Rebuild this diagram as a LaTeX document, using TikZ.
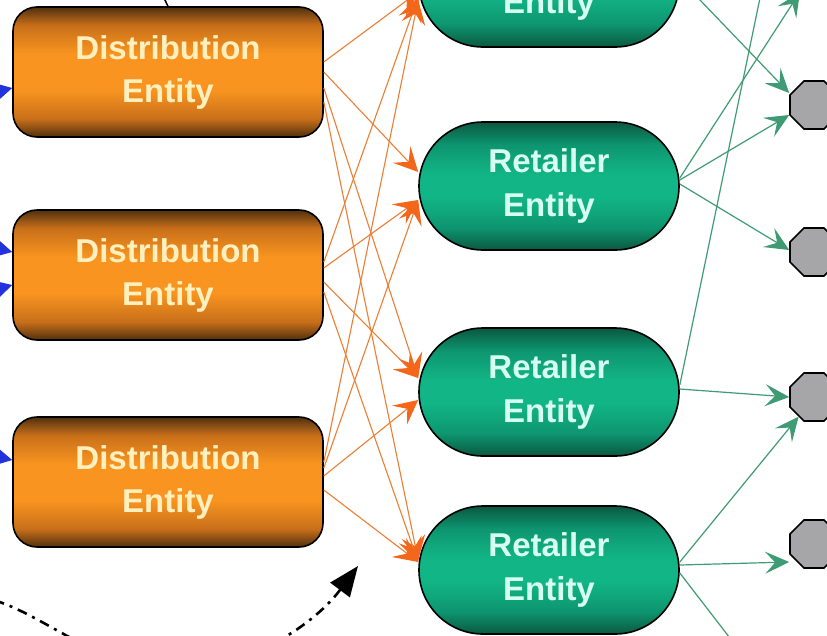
\documentclass[tikz,border=0pt]{standalone}
\usepackage{fontspec}
\setmainfont{Liberation Sans}
\usetikzlibrary{arrows.meta,shapes.misc,shapes.geometric}

\definecolor{dbrown}{HTML}{50300F}
\definecolor{dmid}{HTML}{C86F1A}
\definecolor{dbright}{HTML}{F8941F}
\definecolor{dtext}{HTML}{FFF0BE}
\definecolor{gdark}{HTML}{0A5840}
\definecolor{gmid}{HTML}{0E9670}
\definecolor{gbright}{HTML}{12B686}
\definecolor{gtext}{HTML}{D6FFF2}
\definecolor{hubgray}{HTML}{A6A6A8}
\definecolor{flowline}{HTML}{EC7E34}
\definecolor{flowhead}{HTML}{F4661A}
\definecolor{shipline}{HTML}{3F9B74}
\definecolor{inblue}{HTML}{2233DD}

% vertical shadings: dark rims, bright middle
\pgfdeclareverticalshading{distshade}{100bp}{color(0bp)=(dbrown); color(25bp)=(dbrown);
  color(32bp)=(dmid); color(43bp)=(dbright); color(57bp)=(dbright); color(68bp)=(dmid); color(75bp)=(dbrown); color(100bp)=(dbrown)}
\pgfdeclareverticalshading{retshade}{100bp}{color(0bp)=(gdark); color(25bp)=(gdark);
  color(34bp)=(gmid); color(46bp)=(gbright); color(54bp)=(gbright); color(66bp)=(gmid); color(75bp)=(gdark); color(100bp)=(gdark)}

\tikzset{
  dist/.style={draw=black, line width=1.6pt, rounded corners=24pt, shading=distshade,
    minimum width=310pt, minimum height=130pt, inner sep=0pt, align=center, text=dtext,
    font=\bfseries\fontsize{33}{43}\selectfont},
  retail/.style={rounded rectangle, draw=black, line width=1.6pt, shading=retshade,
    minimum width=260pt, minimum height=128pt, inner sep=0pt, align=center, text=gtext,
    font=\bfseries\fontsize{33}{44}\selectfont},
  hub/.style={regular polygon, regular polygon sides=8, minimum size=52pt, inner sep=0pt,
    draw=black, line width=1.6pt, fill=hubgray},
  flow/.style={draw=flowline, line width=1.1pt,
    -{Stealth[length=24pt, width=24pt, inset=10pt, color=flowhead]}},
  ship/.style={draw=shipline, line width=1.2pt,
    -{Stealth[length=24pt, width=22pt, inset=10pt]}},
  feed/.style={draw=inblue, line width=1.6pt,
    -{Stealth[length=24pt, width=26pt, inset=8pt]}},
  loopback/.style={draw=black, line width=2.6pt, dash pattern=on 10pt off 6pt on 3pt off 6pt,
    -{Triangle[length=30pt, width=24pt]}}
}

\begin{document}
\begin{tikzpicture}[x=1pt, y=-1pt]
\useasboundingbox (0,0) rectangle (827,635);
\fill[white] (0,0) rectangle (827,635);
\begin{scope}
\clip (0,0) rectangle (827,635);

% distribution column
\node[dist] (d1) at (168,72)  {Distribution\\Entity};
\node[dist] (d2) at (168,275) {Distribution\\Entity};
\node[dist] (d3) at (168,482) {Distribution\\Entity};

% retailer column
\node[retail] (rA) at (549,-17) {Retailer\\Entity};
\node[retail] (rB) at (549,186) {Retailer\\Entity};
\node[retail] (rC) at (549,392) {Retailer\\Entity};
\node[retail] (rD) at (549,570) {Retailer\\Entity};

% customer hubs
\node[hub] (o1) at (814,105) {};
\node[hub] (o2) at (814,252) {};
\node[hub] (o3) at (814,397) {};
\node[hub] (o4) at (814,544) {};

% free ends of connectors that leave the frame
\coordinate (top) at (150,-30);
\coordinate (b1) at (-60,105);
\coordinate (b2) at (-60,235);
\coordinate (b3) at (-60,305);
\coordinate (b4) at (-60,445);
\coordinate (tB) at (800,-8);
\coordinate (tC) at (772,-60);
\coordinate (bD) at (770,690);
\coordinate (lp) at (-30,596);
\coordinate (lq) at (175,670);
\coordinate (lr) at (358,566);

% inbound feeds
\draw[black, line width=1.5pt] (top) -- (d1.north);
\draw[feed] (b1) -- ([yshift=-16pt]d1.west);
\draw[feed] (b2) -- ([yshift=23pt]d2.west);
\draw[feed] (b3) -- ([yshift=-10pt]d2.west);
\draw[feed] (b4) -- ([yshift=22pt]d3.west);

% distribution -> retailer
\draw[flow] ([yshift=10pt]d1.east)  -- ([yshift=-9pt]rA.west);
\draw[flow] (d1.east)               -- ([yshift=14pt]rB.west);
\draw[flow] ([yshift=-16pt]d1.east) -- ([yshift=14pt]rC.west);
\draw[flow] ([yshift=-30pt]d1.east) -- ([yshift=10pt]rD.west);
\draw[flow] ([yshift=13pt]d2.east)  -- ([yshift=-14pt]rA.west);
\draw[flow] ([yshift=7pt]d2.east)   -- ([yshift=-14pt]rB.west);
\draw[flow] ([yshift=-7pt]d2.east)  -- ([yshift=14pt]rC.west);
\draw[flow] ([yshift=-17pt]d2.east) -- ([yshift=8pt]rD.west);
\draw[flow] ([yshift=20pt]d3.east)  -- ([yshift=-17pt]rA.west);
\draw[flow] ([yshift=14pt]d3.east)  -- ([yshift=-14pt]rB.west);
\draw[flow] ([yshift=6pt]d3.east)   -- ([yshift=-8pt]rC.west);
\draw[flow] ([yshift=-8pt]d3.east)  -- ([yshift=8pt]rD.west);

% retailer -> customers
\draw[ship] ([yshift=4pt]rA.east)  -- ([yshift=12pt]o1.west);
\draw[ship] ([yshift=6pt]rB.east)  -- ([yshift=-10pt]o1.west);
\draw[ship] ([yshift=2pt]rB.east)  -- ([yshift=2pt]o2.west);
\draw[ship] ([yshift=8pt]rB.east)  -- (tB);
\draw[ship] ([yshift=7pt]rC.east)  -- (tC);
\draw[ship] ([yshift=3pt]rC.east)  -- (o3.west);
\draw[ship] ([yshift=8pt]rD.east)  -- (o3.232);
\draw[ship] ([yshift=5pt]rD.east)  -- ([yshift=-18pt]o4.west);
\draw[ship] ([yshift=-3pt]rD.east) -- (bD);

% return loop
\draw[loopback] (lp) .. controls (30,598) and (90,670) .. (lq)
                     .. controls (240,670) and (310,630) .. (lr);
\end{scope}
\end{tikzpicture}
\end{document}
